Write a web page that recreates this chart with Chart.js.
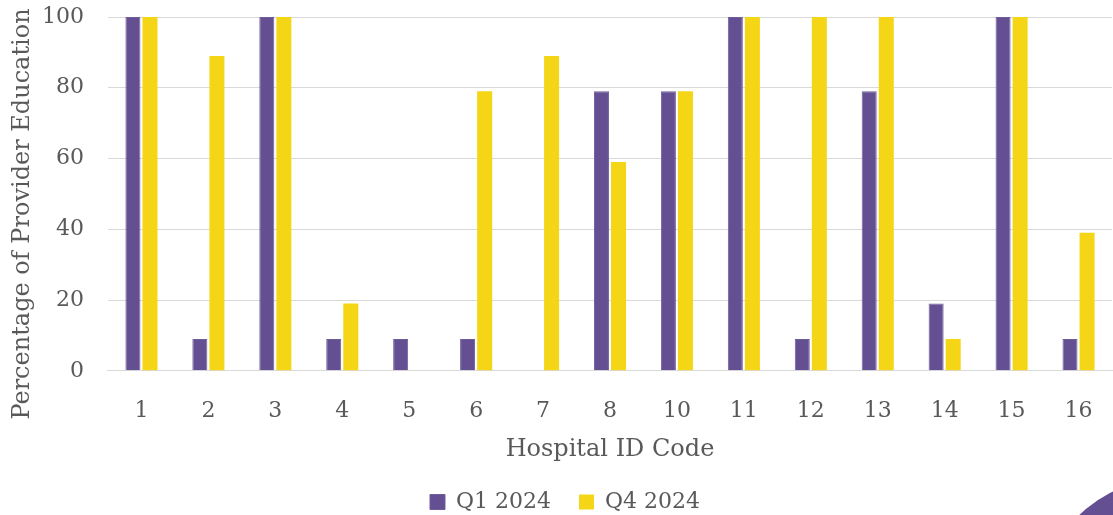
<!DOCTYPE html>
<html>
<head>
<meta charset="utf-8">
<script src="https://cdn.jsdelivr.net/npm/chart.js@4"></script>
<style>
  html, body { margin: 0; padding: 0; background: #fff; overflow: hidden; }
  #wrap { position: relative; width: 1113px; height: 515px; overflow: hidden; }
  #corner { position: absolute; left: 1031px; top: 475px; width: 300px; height: 300px;
            border-radius: 50%; background: #634f91; }
</style>
</head>
<body>
<div id="wrap">
  <canvas id="myChart" width="1113" height="515"></canvas>
  <div id="corner"></div>
</div>
<script>
// categories and values
const hospitals = ['1', '2', '3', '4', '5', '6', '7', '8', '10', '11', '12', '13', '14', '15', '16'];
const q1_2024 = [100, 9, 100, 9, 9, 9, 0, 79, 79, 100, 9, 79, 19, 100, 9];
const q4_2024 = [100, 89, 100, 19, 0, 79, 89, 59, 79, 100, 100, 100, 9, 100, 39];
const yTicks = [0, 20, 40, 60, 80, 100];
const yTitle = 'Percentage of Provider Education';

const fontFamily = "'DejaVu Serif', serif";
const textColor = '#595959';

const ctx = document.getElementById('myChart').getContext('2d');

// y axis title drawn by hand: in the original it sits a bit lower than the plot centre
const yTitlePlugin = {
    id: 'yTitle',
    afterDraw(chart) {
        const c = chart.ctx;
        c.save();
        c.translate(23, 214);
        c.rotate(-Math.PI / 2);
        c.font = '24px ' + fontFamily;
        c.fillStyle = textColor;
        c.textAlign = 'center';
        c.textBaseline = 'middle';
        c.fillText(yTitle, 0, 0);
        c.restore();
    }
};

const data = {
    labels: hospitals,
    datasets: [{
        label: 'Q1 2024',
        data: q1_2024,
        backgroundColor: '#634f91',
        borderColor: '#6f5d9b',
        borderWidth: 1,
        categoryPercentage: 0.51,
        barPercentage: 0.88
    }, {
        label: 'Q4 2024',
        data: q4_2024,
        backgroundColor: '#f5d617',
        borderWidth: 0,
        categoryPercentage: 0.51,
        barPercentage: 0.88
    }]
};

const config = {
    type: 'bar',
    data: data,
    options: {
        responsive: false,
        animation: false,
        layout: { padding: { left: 18, right: 1, top: 0, bottom: -8 } },
        plugins: {
            legend: {
                position: 'bottom',
                labels: {
                    boxWidth: 15,
                    boxHeight: 15,
                    padding: 28,
                    color: textColor,
                    font: { family: fontFamily, size: 22 }
                }
            },
            tooltip: { enabled: false }
        },
        scales: {
            x: {
                afterFit: axis => { axis.paddingLeft = 0; axis.paddingRight = 0; },
                grid: { display: false, drawTicks: false },
                border: { color: '#d9d9d9', width: 1 },
                ticks: { color: textColor, font: { family: fontFamily, size: 22 }, padding: 27 },
                title: {
                    display: true,
                    text: 'Hospital ID Code',
                    color: textColor,
                    font: { family: fontFamily, size: 24 },
                    padding: { top: -16, bottom: -1 }
                }
            },
            y: {
                min: 0,
                max: 100,
                afterBuildTicks: axis => { axis.ticks = yTicks.map(v => ({ value: v })); },
                afterFit: axis => { axis.paddingTop = 17; },
                grid: { color: '#d9d9d9', drawTicks: false },
                border: { display: false },
                ticks: { color: textColor, font: { family: fontFamily, size: 22 }, padding: 24 }
            }
        }
    },
    plugins: [yTitlePlugin]
};

const myChart = new Chart(ctx, config);
</script>
</body>
</html>
